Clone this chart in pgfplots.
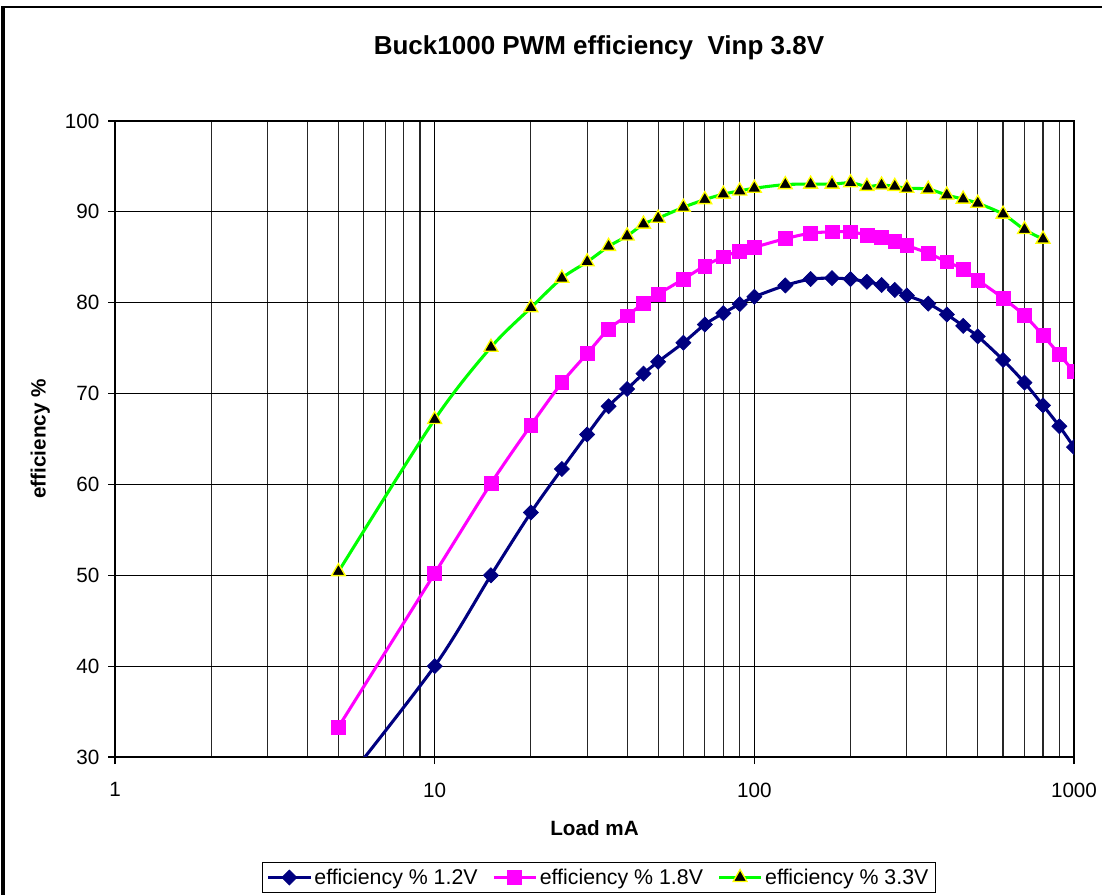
\documentclass[border=0pt]{standalone}
\usepackage{fontspec}
\setmainfont{Liberation Sans}
\usepackage{pgfplots}
\pgfplotsset{compat=1.18}
\definecolor{navyc}{RGB}{0,0,128}
\definecolor{magc}{RGB}{255,0,255}
\definecolor{greenc}{RGB}{0,255,0}
\definecolor{yelc}{RGB}{255,255,0}
\begin{document}
\begin{tikzpicture}
\useasboundingbox (0,0) rectangle (826.5pt,671.25pt);
\draw[line width=3pt] (2.25pt,-20pt) -- (2.25pt,666pt);
\draw[line width=1.8pt] (1pt,666pt) -- (850pt,666pt);
\node[font=\bfseries\fontsize{19.5}{23}\selectfont] at (449.25pt,635.25pt) {Buck1000 PWM efficiency\ \ Vinp 3.8V};
\begin{axis}[
  at={(86.25pt,103.5pt)}, anchor=south west,
  scale only axis, width=719.25pt, height=477pt,
  xmode=log, xmin=1, xmax=1000, ymin=30, ymax=100,
  ytick={30,40,...,100},
  xtick={1,10,100,1000}, xticklabels={1,10,100,1000},
  minor xtick={2,3,4,5,6,7,8,9,20,30,40,50,60,70,80,90,200,300,400,500,600,700,800,900},
  xmajorgrids, xminorgrids, ymajorgrids,
  major grid style={black, line width=0.9pt},
  minor grid style={black!85, line width=0.9pt},
  tick align=outside, tick pos=left,
  major tick length=5.25pt, minor tick length=0pt,
  tick style={black, line width=0.9pt},
  axis line style={black, line width=1.3pt},
  /pgf/number format/assume math mode=true,
  ticklabel style={font=\fontsize{15.5}{18}\selectfont},
  yticklabel style={xshift=-3pt},
  xticklabel style={yshift=-10.5pt},
  xlabel={Load mA}, ylabel={efficiency \%},
  label style={font=\bfseries\fontsize{15.5}{18}\selectfont},
  xlabel style={at={(axis description cs:0.5,-0.112)}, anchor=center},
  ylabel style={at={(axis description cs:-0.078,0.5)}, anchor=center},
  clip marker paths=true,
  legend columns=3,
  legend style={at={(axis description cs:0.5047,-0.1895)}, anchor=center,
    draw=black, line width=0.8pt, font=\fontsize{16}{18}\selectfont,
    inner sep=3pt,
    /tikz/every even column/.append style={column sep=9pt}},
  legend image code/.code={\draw[mark repeat=2,mark phase=2] plot coordinates {(0cm,0cm) (0.55cm,0cm) (1.1cm,0cm)};},
]
\addplot[navyc, line width=2.3pt, smooth, mark=square*, mark size=4.0pt,
  mark options={solid, rotate=45, fill=navyc, draw=navyc, line width=0.5pt}] coordinates {
(5,26.3) (10,40.0) (15,50.0) (20,56.9) (25,61.7) (30,65.5) (35,68.6) (40,70.5)
(45,72.2) (50,73.5) (60,75.6) (70,77.6) (80,78.85) (90,79.85) (100,80.65)
(125,81.9) (150,82.6) (175,82.7) (200,82.6) (225,82.3) (250,81.95) (275,81.4)
(300,80.8) (350,79.9) (400,78.7) (450,77.45) (500,76.3) (600,73.7) (700,71.2)
(800,68.7) (900,66.4) (1000,64.1)};
\addlegendentry{efficiency \% 1.2V}
\addplot[magc, line width=2.3pt, smooth, mark=square*, mark size=5.2pt,
  mark options={solid, fill=magc, draw=magc, line width=0.5pt}] coordinates {
(5,33.3) (10,50.2) (15,60.1) (20,66.5) (25,71.2) (30,74.4) (35,77.1) (40,78.55)
(45,79.95) (50,80.95) (60,82.6) (70,84.05) (80,85.05) (90,85.7) (100,86.1)
(125,87.05) (150,87.65) (175,87.8) (200,87.8) (225,87.45) (250,87.15) (275,86.8)
(300,86.3) (350,85.45) (400,84.5) (450,83.7) (500,82.5) (600,80.5) (700,78.6)
(800,76.4) (900,74.3) (1000,72.4)};
\addlegendentry{efficiency \% 1.8V}
\addplot[greenc, line width=2.3pt, smooth, mark=triangle*, mark size=6pt,
  mark options={solid, fill=black, draw=yelc, line width=1pt}] coordinates {
(5,50.4) (10,67.15) (15,75.1) (20,79.45) (25,82.7) (30,84.5) (35,86.2) (40,87.35)
(45,88.65) (50,89.3) (60,90.5) (70,91.35) (80,91.95) (90,92.3) (100,92.6)
(125,93.0) (150,93.05) (175,93.05) (200,93.2) (225,92.8) (250,92.95) (275,92.8)
(300,92.6) (350,92.5) (400,91.85) (450,91.4) (500,90.95) (600,89.75) (700,88.05)
(800,87.0)};
\addlegendentry{efficiency \% 3.3V}
\end{axis}
\end{tikzpicture}
\end{document}
